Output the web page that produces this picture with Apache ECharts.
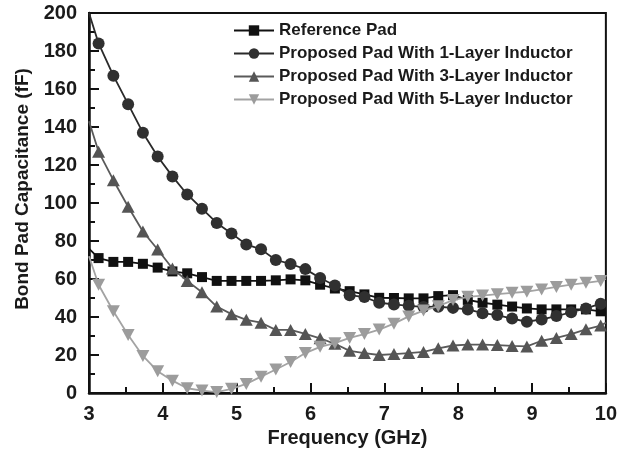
<!DOCTYPE html>
<html><head><meta charset="utf-8">
<script src="https://cdn.jsdelivr.net/npm/echarts@6/dist/echarts.min.js"></script>
<style>html,body{margin:0;padding:0;background:#fff}#c{width:620px;height:455px}</style>
</head><body><div id="c"></div>
<script>
const freq = [3.0, 3.13, 3.33, 3.53, 3.73, 3.93, 4.13, 4.33, 4.53, 4.73, 4.93, 5.13, 5.33, 5.53, 5.73, 5.93, 6.13, 6.33, 6.53, 6.73, 6.93, 7.13, 7.33, 7.53, 7.73, 7.93, 8.13, 8.33, 8.53, 8.73, 8.93, 9.13, 9.33, 9.53, 9.73, 9.93, 10.0];
const refPad = [76, 71, 69, 69, 68, 66, 64, 63, 61, 59, 59, 59, 59, 59.3, 59.8, 59.3, 57, 55, 53.6, 51.9, 50.1, 50, 49.8, 49.8, 51, 51.5, 49, 47.5, 46.5, 45.5, 44.5, 44, 44, 44, 44, 43, 42.5];
const layer1 = [200, 184, 167, 152, 137, 124.5, 114, 104.5, 97, 89.5, 84, 78.2, 75.6, 70, 67.9, 65.2, 60.5, 56.6, 51.5, 50.5, 47.5, 46.6, 45.9, 45.3, 45.4, 44.8, 44, 42, 41, 39.2, 37.5, 38.7, 40.5, 42.5, 44.5, 47, 48];
const layer3 = [143, 127, 112, 98, 85, 75.5, 65.5, 59, 53, 45.5, 41.5, 38.5, 37, 33.2, 33.2, 31.1, 28.8, 25.9, 22.2, 21, 20, 20.5, 21, 21.6, 23.5, 25, 25.5, 25.5, 25.2, 24.8, 24.5, 27.5, 29, 31, 33.5, 35.5, 37];
const layer5 = [72, 57, 43, 30.5, 19.5, 11.5, 6.5, 2.5, 1.3, 0.5, 2.2, 4.8, 8.6, 12.4, 16.3, 21, 24.3, 26.2, 29, 31, 33.4, 36.5, 40.3, 43.4, 45.7, 48.9, 50.6, 51.3, 52, 52.7, 53.3, 54.5, 55.8, 57, 58, 59, 60];
const names = ['Reference Pad', 'Proposed Pad With 1-Layer Inductor', 'Proposed Pad With 3-Layer Inductor', 'Proposed Pad With 5-Layer Inductor'];
const xTicks = [3, 4, 5, 6, 7, 8, 9, 10];
const yTicks = [0, 20, 40, 60, 80, 100, 120, 140, 160, 180, 200];

const FONT = 'Liberation Sans';
function mk(vals) {
  return vals.map((v, i) => {
    const d = { value: [freq[i], v] };
    if (i === 0 || i === vals.length - 1) d.symbol = 'none';
    return d;
  });
}
const styles = [
  { sym: 'rect', size: 10, line: '#111', fill: '#111' },
  { sym: 'circle', size: 12, line: '#2a2a2a', fill: '#303030' },
  { sym: 'triangle', size: [13, 12], line: '#5a5a5a', fill: '#555' },
  { sym: 'path://M0,0L2,0L1,1.732Z', size: [13, 12], line: '#a3a3a3', fill: '#9c9c9c' }
];
const all = [refPad, layer1, layer3, layer5];
const series = all.map((vals, k) => ({
  name: names[k], type: 'line', data: mk(vals),
  symbol: styles[k].sym, symbolSize: styles[k].size, showSymbol: true,
  lineStyle: { color: styles[k].line, width: 1.8 },
  itemStyle: { color: styles[k].fill, borderWidth: 0 },
  z: 2 + k, animation: false
}));

const chart = echarts.init(document.getElementById('c'), null, { renderer: 'canvas' });
chart.setOption({
  animation: false,
  backgroundColor: '#fff',
  grid: { left: 89, right: 13, top: 13, bottom: 62, show: true, borderColor: '#111', borderWidth: 2, backgroundColor: 'transparent' },
  legend: {
    data: names, orient: 'vertical', left: 228, top: 17, itemGap: 6,
    itemWidth: 40, itemHeight: 13,
    textStyle: { fontFamily: FONT, fontWeight: 'bold', fontSize: 17, color: '#1a1a1a' }
  },
  xAxis: {
    type: 'value', min: 3, max: 10, interval: 1,
    name: 'Frequency (GHz)', nameLocation: 'middle', nameGap: 30,
    nameTextStyle: { fontFamily: FONT, fontWeight: 'bold', fontSize: 20, color: '#1a1a1a' },
    axisLine: { lineStyle: { color: '#111', width: 2.5 } },
    axisTick: { inside: true, length: 10, lineStyle: { color: '#111', width: 2 } },
    minorTick: { show: true, splitNumber: 2, length: 6, lineStyle: { color: '#111', width: 2 } },
    splitLine: { show: false },
    axisLabel: { fontFamily: FONT, fontWeight: 'bold', fontSize: 20, color: '#1a1a1a', margin: 11,
      formatter: v => xTicks.includes(v) ? String(v) : '' }
  },
  yAxis: {
    type: 'value', min: 0, max: 200, interval: 20,
    name: 'Bond Pad Capacitance (fF)', nameLocation: 'middle', nameGap: 55,
    nameTextStyle: { fontFamily: FONT, fontWeight: 'bold', fontSize: 19, color: '#1a1a1a', padding: [0, 0, 0, 28] },
    axisLine: { show: true, lineStyle: { color: '#111', width: 2.5 } },
    axisTick: { show: true, inside: true, length: 10, lineStyle: { color: '#111', width: 2 } },
    minorTick: { show: true, splitNumber: 2, length: 6, lineStyle: { color: '#111', width: 2 } },
    splitLine: { show: false },
    axisLabel: { fontFamily: FONT, fontWeight: 'bold', fontSize: 20, color: '#1a1a1a', margin: 12,
      formatter: v => yTicks.includes(v) ? String(v) : '' }
  },
  series: series
});
</script></body></html>
